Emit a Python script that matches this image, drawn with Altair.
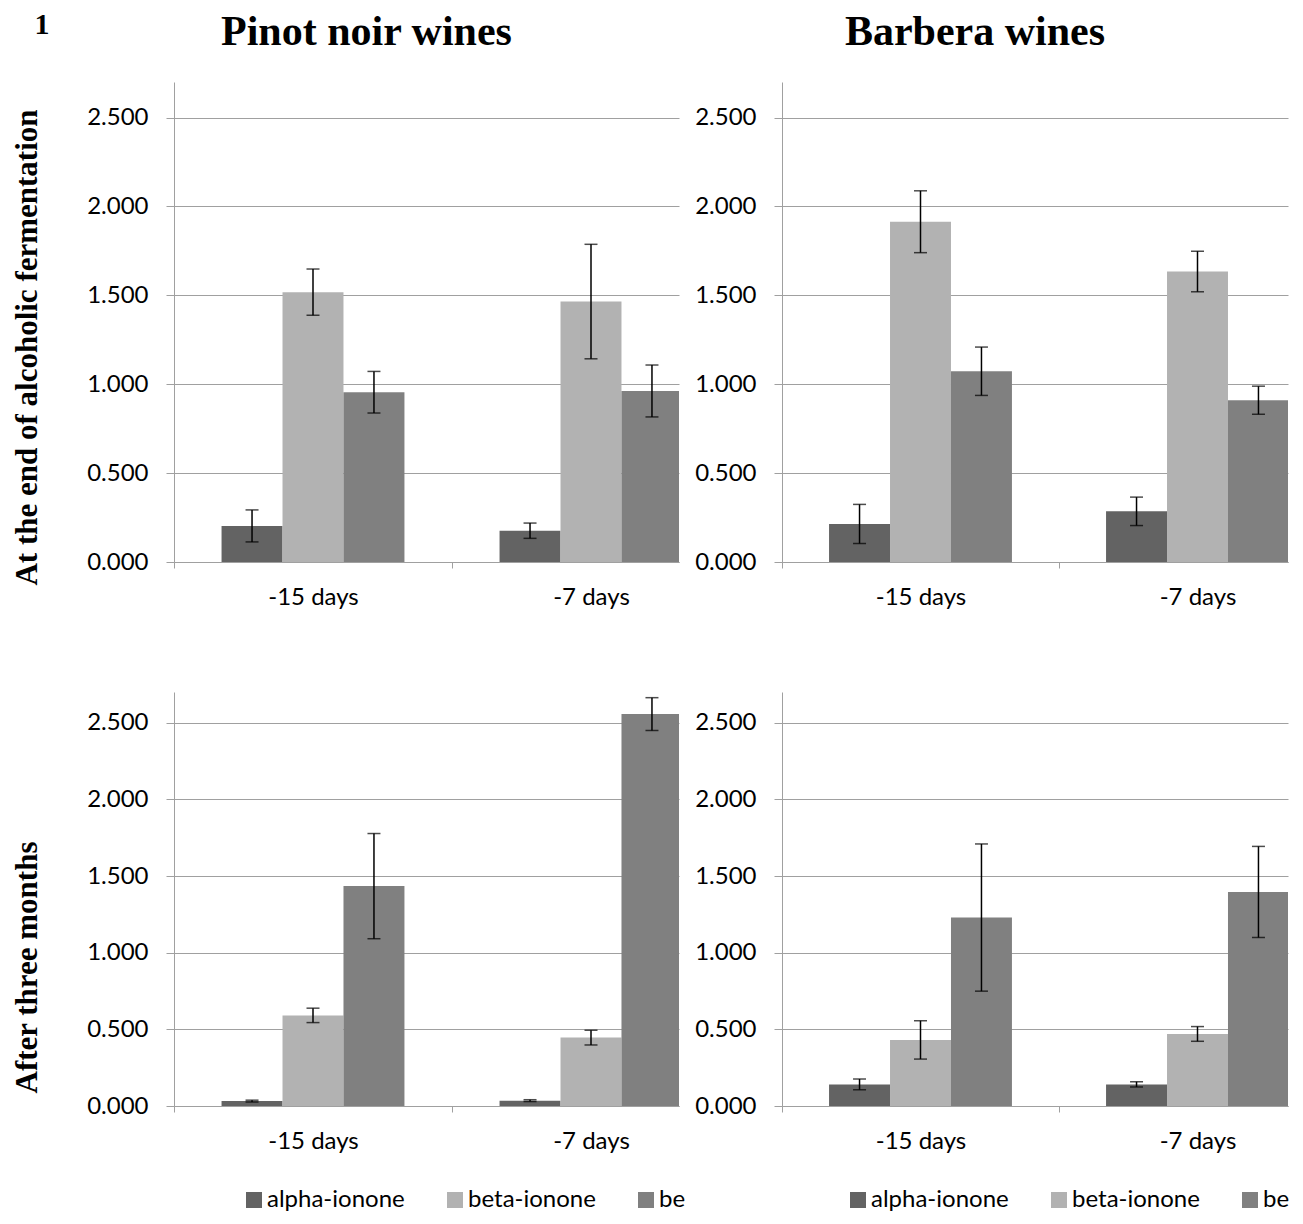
import altair as alt
import pandas as pd

categories = ["-15 days", "-7 days"]
series = ["alpha-ionone", "beta-ionone", "beta-damascenone"]
series_colors = ["#636363", "#b2b2b2", "#808080"]
y_ticks = [0.0, 0.5, 1.0, 1.5, 2.0, 2.5]

# values per series, in category order [-15 days, -7 days]
pinot_af_alpha = [0.203, 0.176]
pinot_af_beta = [1.518, 1.465]
pinot_af_dam = [0.955, 0.962]
pinot_af_alpha_err = [0.090, 0.043]
pinot_af_beta_err = [0.130, 0.322]
pinot_af_dam_err = [0.117, 0.146]

barbera_af_alpha = [0.214, 0.285]
barbera_af_beta = [1.914, 1.634]
barbera_af_dam = [1.073, 0.910]
barbera_af_alpha_err = [0.110, 0.080]
barbera_af_beta_err = [0.174, 0.114]
barbera_af_dam_err = [0.136, 0.079]

pinot_3m_alpha = [0.032, 0.035]
pinot_3m_beta = [0.591, 0.446]
pinot_3m_dam = [1.434, 2.556]
pinot_3m_alpha_err = [0.006, 0.006]
pinot_3m_beta_err = [0.047, 0.048]
pinot_3m_dam_err = [0.343, 0.107]

barbera_3m_alpha = [0.141, 0.141]
barbera_3m_beta = [0.431, 0.470]
barbera_3m_dam = [1.229, 1.396]
barbera_3m_alpha_err = [0.035, 0.017]
barbera_3m_beta_err = [0.125, 0.048]
barbera_3m_dam_err = [0.480, 0.297]

GRAY = "#a0a0a0"


def table(means, errs):
    rows = []
    for s, m, e in zip(series, means, errs):
        for c, v, ev in zip(categories, m, e):
            rows.append({"cat": c, "series": s, "mean": v, "lo": v - ev, "hi": v + ev})
    return pd.DataFrame(rows)


def panel(df, height, width, step, title=None, title_offset=0, row_title=None,
          row_title_y=0, legend_x=None, fig_label=None):
    x_kw = dict(domain=True, domainColor=GRAY, tickOffset=-step / 2, labelOffset=step / 2,
                tickSize=6, tickColor=GRAY, labelAngle=0, labelFont="Lato",
                labelFontSize=24, labelColor="black", labelPadding=17, grid=False)
    if fig_label:
        xaxis = alt.Axis(title=fig_label, titleFont="Liberation Serif", titleFontSize=30,
                         titleFontWeight="bold", titleColor="black", titleAngle=0,
                         titleX=-140, titleY=-553 - (height - 480), titleAlign="left",
                         titleBaseline="top", **x_kw)
    else:
        xaxis = alt.Axis(title=None, **x_kw)
    # category steps are wider than half the plot: the last group is cut at the right edge
    pt_pad = (width / step - 1) / 2
    pt_align = (step / 2) / (width - step)
    xenc = alt.X("cat:N", sort=categories,
                 scale=alt.Scale(type="point", domain=categories, padding=pt_pad,
                                 align=pt_align),
                 axis=xaxis)
    xoff = alt.XOffset("series:N", sort=series,
                       scale=alt.Scale(domain=series, range=[-step / 2, step / 2],
                                       paddingInner=0, paddingOuter=0.78))
    ax_kw = dict(values=y_ticks, format=".3f", tickSize=8, tickColor=GRAY,
                 domainColor=GRAY, grid=True, gridColor=GRAY, labelFont="Lato",
                 labelFontSize=24, labelColor="black", labelPadding=18)
    if row_title:
        yaxis = alt.Axis(title=row_title, titleFont="Liberation Serif", titleFontSize=31,
                         titleFontWeight="bold", titleColor="black", titleAngle=270,
                         titleX=-147, titleY=row_title_y, titleAlign="center",
                         titleBaseline="middle", **ax_kw)
    else:
        yaxis = alt.Axis(title=None, **ax_kw)
    yscale = alt.Scale(domain=[0, 2.7], nice=False, zero=True)
    if legend_x is not None:
        leg = alt.Legend(orient="none", legendX=legend_x, legendY=496,
                         direction="horizontal", title=None, symbolType="square",
                         symbolSize=256, padding=0, symbolStrokeWidth=0, labelFont="Lato",
                         labelFontSize=24, labelColor="black", columnPadding=38,
                         labelOffset=1,
                         labelExpr="datum.label == 'beta-damascenone' ? 'be' : datum.label")
    else:
        leg = None
    base = alt.Chart(df)
    bars = base.mark_bar(clip=True).encode(
        x=xenc, xOffset=xoff,
        y=alt.Y("mean:Q", scale=yscale, axis=yaxis),
        color=alt.Color("series:N", sort=series,
                        scale=alt.Scale(domain=series, range=series_colors), legend=leg),
    )
    rules = base.mark_rule(clip=True, color="black", strokeWidth=1.5).encode(
        x=xenc, xOffset=xoff,
        y=alt.Y("lo:Q", scale=yscale, axis=yaxis), y2="hi:Q",
    )
    cap_hi = base.mark_tick(clip=True, color="black", thickness=1.5, size=13).encode(
        x=xenc, xOffset=xoff, y=alt.Y("hi:Q", scale=yscale, axis=yaxis))
    cap_lo = base.mark_tick(clip=True, color="black", thickness=1.5, size=13).encode(
        x=xenc, xOffset=xoff, y=alt.Y("lo:Q", scale=yscale, axis=yaxis))
    ch = alt.layer(bars, rules, cap_hi, cap_lo).properties(width=width, height=height)
    if title:
        ch = ch.properties(title=alt.TitleParams(
            title, font="Liberation Serif", fontSize=42, fontWeight="bold", color="black",
            anchor="middle", dx=-60, offset=title_offset))
    return ch


tl = panel(table([pinot_af_alpha, pinot_af_beta, pinot_af_dam],
                 [pinot_af_alpha_err, pinot_af_beta_err, pinot_af_dam_err]),
           480, 505, 278, title="Pinot noir wines", title_offset=-45,
           row_title="At the end of alcoholic fermentation", row_title_y=265,
           fig_label="1")
tr = panel(table([barbera_af_alpha, barbera_af_beta, barbera_af_dam],
                 [barbera_af_alpha_err, barbera_af_beta_err, barbera_af_dam_err]),
           480, 506, 277, title="Barbera wines", title_offset=28)
bl = panel(table([pinot_3m_alpha, pinot_3m_beta, pinot_3m_dam],
                 [pinot_3m_alpha_err, pinot_3m_beta_err, pinot_3m_dam_err]),
           414, 505, 278, row_title="After three months", row_title_y=275, legend_x=68)
br = panel(table([barbera_3m_alpha, barbera_3m_beta, barbera_3m_dam],
                 [barbera_3m_alpha_err, barbera_3m_beta_err, barbera_3m_dam_err]),
           414, 506, 277, legend_x=64)

chart = alt.concat(tl, tr, bl, br, columns=2, spacing={"row": 83, "column": 8}).resolve_scale(
    color="independent").resolve_legend(color="independent").properties(
    align="each",
    padding={"left": 2, "top": 1, "right": 0, "bottom": 2},
).configure_view(stroke=None)

chart.save("out.html", embed_options={"renderer": "svg", "actions": False})
